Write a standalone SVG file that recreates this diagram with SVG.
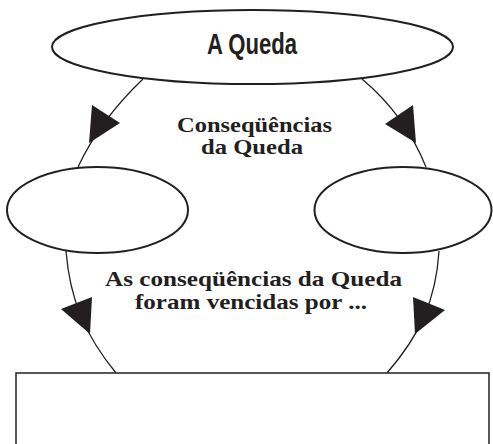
<svg xmlns="http://www.w3.org/2000/svg" width="493" height="444" viewBox="0 0 493 444">
<style>
.node{fill:#fff;stroke:#231f20;stroke-width:2}
.conn{fill:none;stroke:#231f20;stroke-width:1.3}
.head{fill:#231f20;stroke:none}
.title{font-family:"Liberation Sans",Arial,sans-serif;font-weight:bold;font-size:29px;fill:#231f20}
.lbl{font-family:"Liberation Serif","Times New Roman",serif;font-weight:bold;font-size:21px;fill:#231f20}
</style>
<rect width="493" height="444" fill="#fff"/>
<g id="connectors">
<path class="conn" d="M143,79 Q100,120 78,167"/>
<polygon class="head" points="92,105 120,123 89,143"/>
<path class="conn" d="M362,79 Q405,115 426,167"/>
<polygon class="head" points="413,105 385,124 416,143"/>
<path class="conn" d="M66,251 C70,300 85,335 116,373"/>
<polygon class="head" points="92,297 61,309 90,334"/>
<path class="conn" d="M439,251 C436,300 420,335 387,373"/>
<polygon class="head" points="413,297 445,310 415,334"/>
</g>
<g id="node-queda">
<ellipse class="node" cx="252.5" cy="47" rx="200.5" ry="37"/>
<text class="title" x="252" y="54" text-anchor="middle" textLength="90" lengthAdjust="spacingAndGlyphs">A Queda</text>
</g>
<g id="node-left">
<ellipse class="node" cx="97.5" cy="210" rx="90.5" ry="43"/>
</g>
<g id="node-right">
<ellipse class="node" cx="403" cy="210" rx="88.5" ry="43"/>
</g>
<g id="node-box">
<rect class="node" x="16" y="373" width="473" height="80" style="stroke-width:1.5"/>
</g>
<g id="labels">
<text class="lbl" x="254.5" y="132" text-anchor="middle" textLength="155" lengthAdjust="spacingAndGlyphs">Conseqüências</text>
<text class="lbl" x="252" y="154" text-anchor="middle" textLength="102" lengthAdjust="spacingAndGlyphs">da Queda</text>
<text class="lbl" x="253.5" y="286" text-anchor="middle" textLength="297" lengthAdjust="spacingAndGlyphs">As conseqüências da Queda</text>
<text class="lbl" x="251" y="309" text-anchor="middle" textLength="232" lengthAdjust="spacingAndGlyphs">foram vencidas por ...</text>
</g>
</svg>
